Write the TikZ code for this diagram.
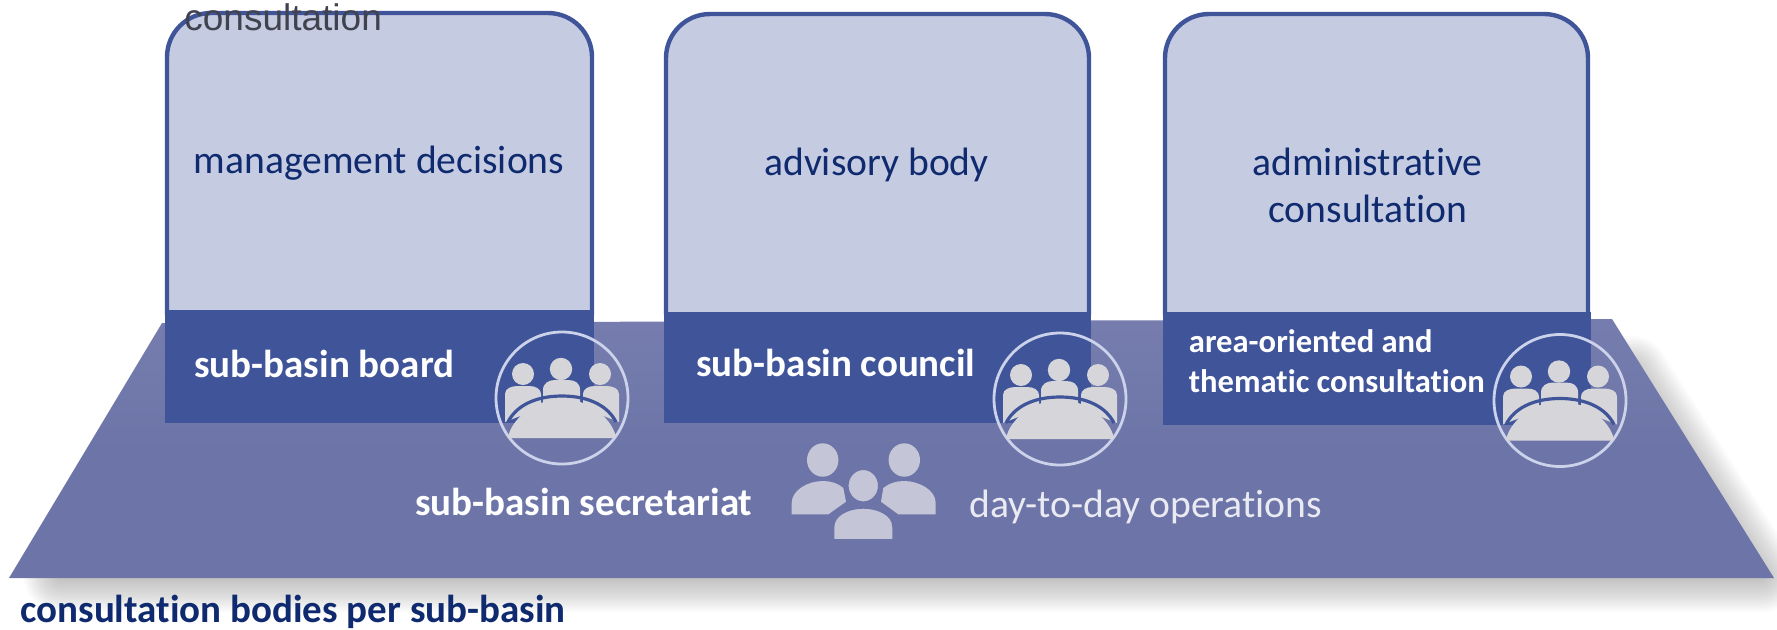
\documentclass[tikz,border=0pt]{standalone}
\usepackage{fontspec}
\setmainfont[RawFeature={-liga;-clig}]{Carlito}
\newfontfamily\arialfont{Liberation Sans}
\definecolor{plane}{HTML}{6D75A8}
\definecolor{planetop}{HTML}{767DAE}
\definecolor{darkbox}{HTML}{40549A}
\definecolor{lightbox}{HTML}{C5CBE1}
\definecolor{navy}{HTML}{0F2A6E}
\definecolor{ringc}{HTML}{CCD2EA}
\definecolor{figgrey}{HTML}{D6D6DA}
\definecolor{secgrey}{HTML}{C4C5D6}
\definecolor{stray}{HTML}{40434F}
\tikzset{
  x=0.5pt,y=-0.5pt,
  upperbox/.style={fill=lightbox,draw=darkbox,line width=2.2pt},
  lowerbox/.style={fill=darkbox},
  ring/.style={circle,draw=ringc,line width=1.4pt,minimum size=66pt,inner sep=0pt},
  bodytext/.style={anchor=base,text=navy,font=\fontsize{19.8}{23}\selectfont,inner sep=0pt},
  boldwhite/.style={anchor=base west,text=white,font=\bfseries\fontsize{19.5}{23}\selectfont,inner sep=0pt},
  meeting/.pic={
    \fill[figgrey] (-1,-29) circle[radius=5.6pt];
    \fill[figgrey] (-39,-24) circle[radius=5.5pt];
    \fill[figgrey] (38,-24) circle[radius=5.5pt];
    \fill[figgrey] (-19,5) -- (-19,-8) .. controls (-19,-15) and (-13,-18) .. (-7,-18) -- (6,-18) .. controls (13,-18) and (18,-15) .. (18,-8) -- (18,5) -- cycle;
    \fill[figgrey] (-57,24) -- (-57,-4) .. controls (-57,-10) and (-50,-12) .. (-44,-12) -- (-33,-12) .. controls (-26,-12) and (-21,-9) .. (-21,-4) -- (-21,10) -- cycle;
    \fill[figgrey] (57,24) -- (57,-4) .. controls (57,-10) and (50,-12) .. (44,-12) -- (33,-12) .. controls (26,-12) and (21,-9) .. (21,-4) -- (21,10) -- cycle;
    \draw[darkbox,line width=1.6pt] (-54,24) .. controls (-46,8) and (-27,-2) .. (0,-2) .. controls (27,-2) and (46,8) .. (54,24);
    \fill[figgrey] (-54,40) .. controls (-52,24) and (-30,1) .. (0,1) .. controls (30,1) and (52,24) .. (54,40) -- cycle;
  }
}
\begin{document}
\begin{tikzpicture}
\useasboundingbox (0,0) rectangle (1777,629);
% soft shadow of the plane
\foreach \w in {36,34,...,2}
  \draw[black,draw opacity=0.016,line width=\w pt,line join=round]
    (200,372) -- (1632,372) -- (1762,576) -- (60,576) -- cycle;
% plane
\shade[top color=planetop,bottom color=plane,middle color=plane]
  (162,323) -- (1612,319) -- (1774,578) -- (9,578) -- cycle;
% columns
\draw[upperbox,rounded corners=22pt] (167,315) -- (167,13) -- (592,13) [sharp corners] -- (592,315);
\draw[upperbox,rounded corners=22pt] (666,315) -- (666,14) -- (1089,14) [sharp corners] -- (1089,315);
\draw[upperbox,rounded corners=22pt] (1165,315) -- (1165,14) -- (1588,14) [sharp corners] -- (1588,315);
\fill[lowerbox] (165,310) rectangle (594,423);
\fill[lowerbox] (664,312) rectangle (1091,423);
\fill[lowerbox] (1163,312) rectangle (1591,425);
% overprinted word
\node[anchor=base west,inner sep=0pt,text=stray,font=\arialfont\fontsize{18.5}{22}\selectfont] (strayword) at (184,30) {consultation};
% texts of the columns
\node[bodytext] (mgmt) at (379,173) {management decisions};
\node[bodytext] (adv) at (876.5,175) {advisory body};
\node[bodytext] (adm1) at (1367.5,175) {administrative};
\node[bodytext] (adm2) at (1368,222) {consultation};
\node[boldwhite] (board) at (194,377) {sub-basin board};
\node[boldwhite] (council) at (696,376) {sub-basin council};
\node[boldwhite,font=\bfseries\fontsize{16.3}{19}\selectfont] (area1) at (1188.5,352) {area-oriented and};
\node[boldwhite,font=\bfseries\fontsize{16.3}{19}\selectfont] (area2) at (1188.5,392) {thematic consultation};
% meeting icons
\node[ring] (ring1) at (562,398) {};
\node[ring] (ring2) at (1060,399) {};
\node[ring] (ring3) at (1560,400.5) {};
\pic at (562,398) {meeting};
\pic at (1060,399) {meeting};
\pic at (1560,400.5) {meeting};
% secretariat
\node[boldwhite] (sec) at (415,515) {sub-basin secretariat};
\node[anchor=base west,inner sep=0pt,text=white!85!plane,font=\fontsize{19.8}{23}\selectfont] (ops) at (969,517) {day-to-day operations};
\fill[secgrey] (822.7,460) ellipse[x radius=7.85pt,y radius=8.35pt];
\fill[secgrey] (904.3,460) ellipse[x radius=7.85pt,y radius=8.35pt];
\fill[secgrey] (791.7,514.3) -- (791.7,503) .. controls (791.7,490) and (808,481) .. (823,481) .. controls (830,481) and (838,483) .. (843.3,488) -- (846,501.7) -- (828.3,514.3) -- cycle;
\fill[secgrey] (935.7,514.3) -- (935.7,503) .. controls (935.7,490) and (919,481) .. (904,481) .. controls (897,481) and (889,483) .. (883.3,488) -- (881,501.7) -- (898.3,514.3) -- cycle;
\filldraw[secgrey,draw=plane,line width=2pt] (863.3,485.7) ellipse[x radius=8.35pt,y radius=8.85pt];
\filldraw[secgrey,draw=plane,line width=2pt] (832.3,541) -- (832.3,527) .. controls (832.3,514) and (848,506.7) .. (863.3,506.7) .. controls (879,506.7) and (894.3,514) .. (894.3,527) -- (894.3,541) -- cycle;
\fill[plane] (825,541) rectangle (902,546);
% caption
\node[boldwhite,text=navy] (cap) at (20,622) {consultation bodies per sub-basin};
\end{tikzpicture}
\end{document}
